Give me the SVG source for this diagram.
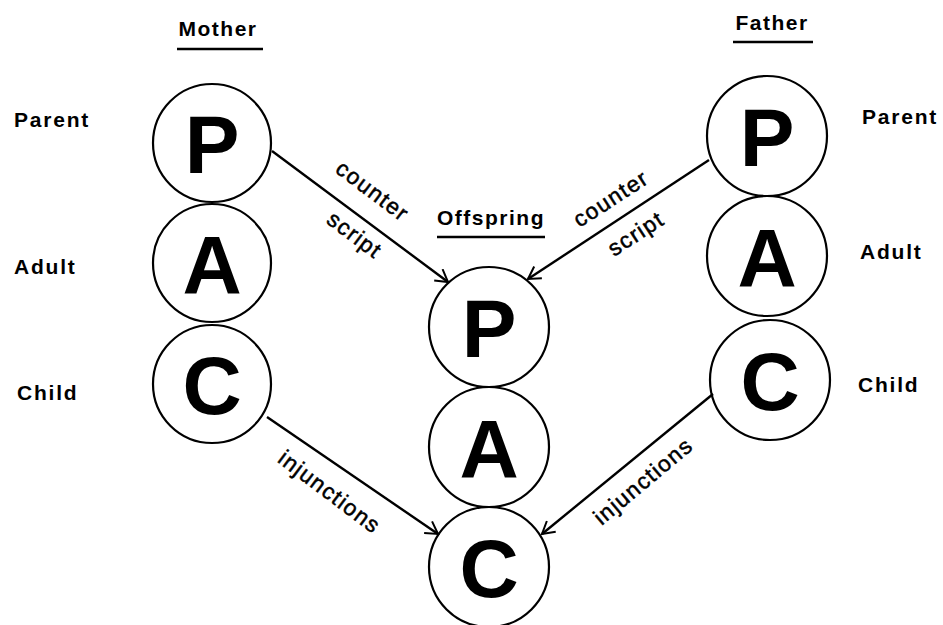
<svg xmlns="http://www.w3.org/2000/svg" width="943" height="625" viewBox="0 0 943 625">
<defs>
<style>
.c{fill:none;stroke:#000;stroke-width:2.2}
.big{font-family:"Liberation Sans",Arial,sans-serif;font-weight:bold;font-size:82px;text-anchor:middle;fill:#000}
.lab{font-family:"Liberation Sans",Arial,sans-serif;font-weight:bold;font-size:21px;letter-spacing:1.8px;fill:#000}
.hd{font-family:"Liberation Sans",Arial,sans-serif;font-weight:bold;font-size:21px;letter-spacing:1.5px;fill:#000;text-anchor:middle}
.ul{stroke:#000;stroke-width:2.5}
.al{font-family:"Liberation Sans",Arial,sans-serif;font-size:22.5px;letter-spacing:1.4px;fill:#000;stroke:#000;stroke-width:0.5;text-anchor:middle}
.e{fill:none;stroke:#000;stroke-width:2.4}
</style>
<marker id="ah" viewBox="0 0 16 16" refX="14" refY="8" markerWidth="16" markerHeight="16" markerUnits="userSpaceOnUse" orient="auto">
<path d="M2,1 L14,8 L2,15" fill="none" stroke="#000" stroke-width="2"/>
</marker>
</defs>
<rect width="943" height="625" fill="#fff"/>

<g id="headers">
<text class="hd" x="218" y="36">Mother</text>
<line class="ul" x1="177" y1="49" x2="263" y2="49"/>
<text class="hd" x="772" y="30">Father</text>
<line class="ul" x1="733" y1="42" x2="813" y2="42"/>
<text class="hd" x="491" y="225">Offspring</text>
<line class="ul" x1="437" y1="237" x2="545" y2="237"/>
</g>

<g id="side-labels">
<text class="lab" x="14" y="127">Parent</text>
<text class="lab" x="14" y="274">Adult</text>
<text class="lab" x="17" y="400">Child</text>
<text class="lab" x="862" y="124">Parent</text>
<text class="lab" x="860" y="259">Adult</text>
<text class="lab" x="858" y="392">Child</text>
</g>

<g id="mother-P"><circle class="c" cx="212" cy="143" r="59"/><text class="big" x="212" y="173">P</text></g>
<g id="mother-A"><circle class="c" cx="212" cy="263" r="59"/><text class="big" x="212" y="293">A</text></g>
<g id="mother-C"><circle class="c" cx="212" cy="384" r="59"/><text class="big" x="212" y="414">C</text></g>

<g id="father-P"><circle class="c" cx="767" cy="136" r="60"/><text class="big" x="767" y="166">P</text></g>
<g id="father-A"><circle class="c" cx="767" cy="256" r="60"/><text class="big" x="767" y="286">A</text></g>
<g id="father-C"><circle class="c" cx="770" cy="380" r="60"/><text class="big" x="770" y="410">C</text></g>

<g id="offspring-P"><circle class="c" cx="489" cy="327" r="60"/><text class="big" x="489" y="357">P</text></g>
<g id="offspring-A"><circle class="c" cx="489" cy="447" r="60"/><text class="big" x="489" y="477">A</text></g>
<g id="offspring-C"><circle class="c" cx="489" cy="567" r="60"/><text class="big" x="489" y="597">C</text></g>

<g id="connectors">
<line class="e" x1="272" y1="151" x2="448" y2="282" marker-end="url(#ah)"/>
<line class="e" x1="709" y1="160" x2="528" y2="279" marker-end="url(#ah)"/>
<line class="e" x1="267" y1="417" x2="438" y2="534" marker-end="url(#ah)"/>
<line class="e" x1="713" y1="394" x2="542" y2="534" marker-end="url(#ah)"/>
<text class="al" transform="translate(368,197) rotate(37)">counter</text>
<text class="al" transform="translate(350,241) rotate(37)">script</text>
<text class="al" transform="translate(615,205) rotate(-33)">counter</text>
<text class="al" transform="translate(640,240) rotate(-33)">script</text>
<text class="al" transform="translate(325,498) rotate(37)">injunctions</text>
<text class="al" transform="translate(648,487) rotate(-40)">injunctions</text>
</g>
</svg>
